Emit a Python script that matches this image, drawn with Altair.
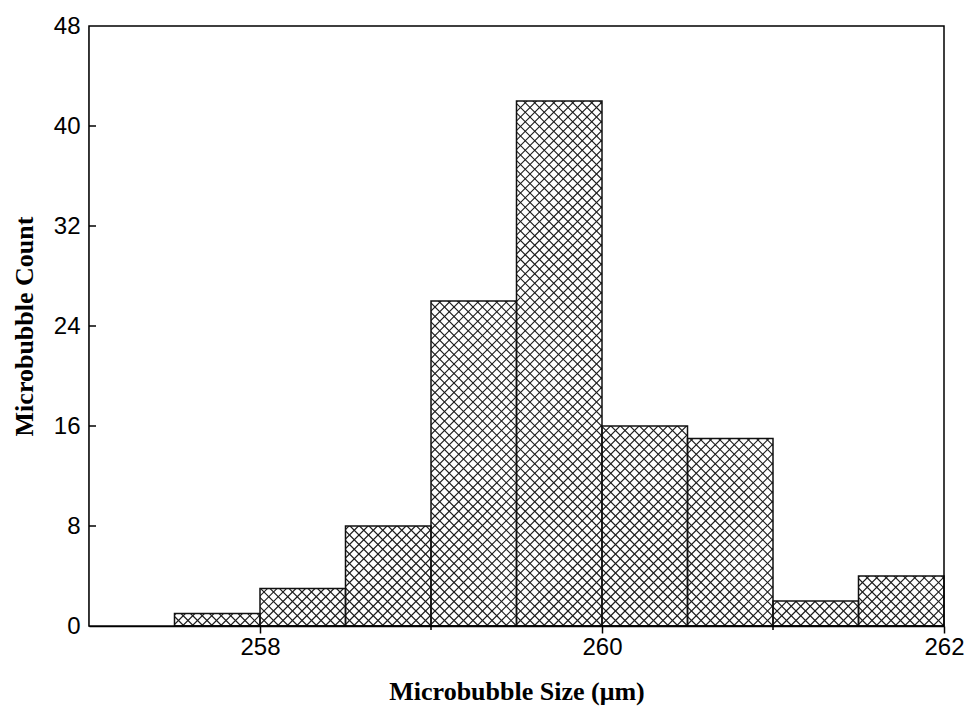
import altair as alt
import pandas as pd

# Histogram bins (left edges, width 0.5 µm) and counts
bin_start = [257.5, 258.0, 258.5, 259.0, 259.5, 260.0, 260.5, 261.0, 261.5]
counts = [1, 3, 8, 26, 42, 16, 15, 2, 4]
BIN_W = 0.5

x_major = [258, 260, 262]
x_minor = [259, 261]
y_ticks = [0, 8, 16, 24, 32, 40, 48]

X_MIN, X_MAX = 257, 262
Y_MAX = 48
W, H = 855, 600          # plot area in pixels
HATCH = 9.5              # spacing of the cross-hatch lines in pixels
PX_PER_X = W / (X_MAX - X_MIN)

bars = pd.DataFrame({
    "start": bin_start,
    "end": [s + BIN_W for s in bin_start],
    "count": counts,
})

# step profile of the histogram; the area above it blanks out the hatching
profile = pd.DataFrame({
    "x": [X_MIN] + bin_start + [X_MAX],
    "y": [0] + counts + [counts[-1]],
})

xs = alt.Scale(domain=[X_MIN, X_MAX], nice=False, zero=False)
ys = alt.Scale(domain=[0, Y_MAX], nice=False)

LABEL_FONT = "Liberation Sans"
TITLE_FONT = "Liberation Serif"

# the same axis definitions are used by every layer so they merge cleanly
ax_x = alt.Axis(
    values=x_major, title="Microbubble Size (μm)", grid=False,
    tickSize=7, tickColor="black", tickWidth=1.5,
    domainColor="black", domainWidth=1.5,
    labelFont=LABEL_FONT, labelFontSize=24, labelColor="black", labelPadding=2,
    labelFlush=False,
    titleFont=TITLE_FONT, titleFontSize=26, titleFontWeight="bold",
    titleColor="black", titlePadding=19,
)
ax_y = alt.Axis(
    values=y_ticks, title="Microbubble Count", grid=False,
    ticks=False, tickSize=0,
    domainColor="black", domainWidth=1.5,
    labelFont=LABEL_FONT, labelFontSize=24, labelColor="black", labelPadding=9,
    labelFlush=False,
    titleFont=TITLE_FONT, titleFontSize=26, titleFontWeight="bold",
    titleColor="black", titlePadding=16,
)

# 45-degree hatch lines, generated along the plot width and clipped to the view
hatch = alt.Chart(alt.sequence(-H, W + HATCH, HATCH, as_="c")).transform_calculate(
    xa=f"{X_MIN} + datum.c / {PX_PER_X}",
    xb=f"{X_MIN} + (datum.c + {H}) / {PX_PER_X}",
    lo="0",
    hi=f"{Y_MAX}",
)

hatch_up = hatch.mark_rule(clip=True, stroke="#1c1c1c", strokeWidth=1.2).encode(
    x=alt.X("xa:Q", scale=xs, axis=ax_x),
    x2="xb:Q",
    y=alt.Y("lo:Q", scale=ys, axis=ax_y),
    y2="hi:Q",
)

hatch_down = hatch.mark_rule(clip=True, stroke="#1c1c1c", strokeWidth=1.2).encode(
    x=alt.X("xa:Q", scale=xs, axis=ax_x),
    x2="xb:Q",
    y=alt.Y("hi:Q", scale=ys, axis=ax_y),
    y2="lo:Q",
)

mask = alt.Chart(profile).transform_calculate(top=f"{Y_MAX}").mark_area(
    interpolate="step-after", color="white", opacity=1, clip=True
).encode(
    x=alt.X("x:Q", scale=xs, axis=ax_x),
    y=alt.Y("y:Q", scale=ys, axis=ax_y),
    y2="top:Q",
)

outline = alt.Chart(bars).mark_rect(
    fill="transparent", stroke="#111111", strokeWidth=1.5
).encode(
    x=alt.X("start:Q", scale=xs, axis=ax_x),
    x2="end:Q",
    y=alt.Y("count:Q", scale=ys, axis=ax_y),
    y2=alt.datum(0),
)

minor = alt.Chart(pd.DataFrame({"v": x_minor})).mark_rule(
    color="black", strokeWidth=1.5
).encode(
    x=alt.X("v:Q", scale=xs, axis=ax_x),
    y=alt.value(H),
    y2=alt.value(H + 4),
)

inward = alt.Chart(pd.DataFrame({"v": y_ticks[1:-1]})).mark_rule(
    color="black", strokeWidth=1.5
).encode(
    y=alt.Y("v:Q", scale=ys, axis=ax_y),
    x=alt.value(0),
    x2=alt.value(7),
)

frame = alt.Chart(pd.DataFrame({"k": [0]})).mark_rect(
    fill="transparent", stroke="black", strokeWidth=1.5
).encode(
    x=alt.value(0), x2=alt.value(W), y=alt.value(0), y2=alt.value(H),
)

chart = alt.layer(hatch_up, hatch_down, mask, outline, minor, inward, frame).properties(
    width=W,
    height=H,
    autosize=alt.AutoSizeParams(type="none"),
    padding={"left": 89, "top": 26, "right": 25, "bottom": 84},
    background="white",
).configure_view(stroke=None)

chart.save("out.html", embed_options={"renderer": "svg", "actions": False})
